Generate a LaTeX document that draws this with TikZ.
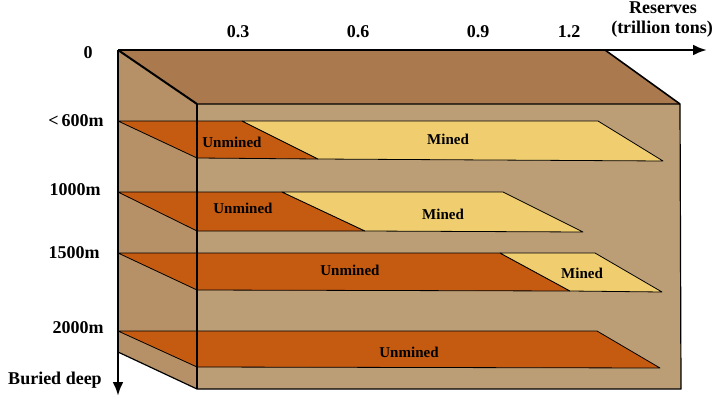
\documentclass[tikz,border=0pt]{standalone}
\usepackage{fontspec}
\setmainfont{Liberation Serif}
\usetikzlibrary{arrows.meta,positioning}
\definecolor{topface}{RGB}{170,121,78}
\definecolor{sideface}{RGB}{182,145,103}
\definecolor{frontface}{RGB}{188,158,118}
\definecolor{unmined}{RGB}{197,90,17}
\definecolor{mined}{RGB}{240,206,112}

\begin{document}
\begin{tikzpicture}[x=1pt,y=-1pt,
	seam/.style={draw=black,line width=0.8pt,line join=round},
	coal/.style={seam,fill=unmined},
	gob/.style={seam,fill=mined},
	edge/.style={draw=black,line width=1.2pt,line join=round},
	axis/.style={line width=2.8pt,-{Latex[length=14pt,width=11pt]}},
	axl/.style={inner sep=0pt,font=\fontsize{18}{20}\selectfont\bfseries},
	sl/.style={inner sep=0pt,font=\fontsize{15}{17}\selectfont\bfseries}]
\useasboundingbox (0,0) rectangle (720,404);

% box corners
\coordinate (A) at (118,50);
\coordinate (B) at (605,50);
\coordinate (C) at (680,104);
\coordinate (D) at (197,104);
\coordinate (E) at (197,389);
\coordinate (F) at (681,389);
\coordinate (G) at (118,352);

% faces
\fill [topface] (A)--(B)--(C)--(D)--cycle;
\fill [sideface] (A)--(D)--(E)--(G)--cycle;
\fill [frontface] (D)--(C)--(F)--(E)--cycle;

% seam 1
\draw [coal] (118,121)--(242,121)--(318,159)--(197,158)--cycle;
\draw [gob] (242,121)--(598,121)--(663,161)--(318,159)--cycle;
% seam 2
\draw [coal] (118,192)--(282,192)--(365,231)--(197,231)--cycle;
\draw [gob] (282,192)--(503,192)--(583,232)--(365,231)--cycle;
% seam 3
\draw [coal] (118,253)--(500,253)--(570,291)--(197,290)--cycle;
\draw [gob] (500,253)--(595,253)--(662,292)--(570,291)--cycle;
% seam 4
\draw [coal] (118,331)--(597,331)--(660,368)--(197,367)--cycle;

% box edges
\draw [edge] (D)--(C)--(F)--(E)--(G);
\draw [edge] (D)--(E);
\draw [edge,line width=2pt] (A)--(D);
\draw [edge,line width=1.6pt] (B)--(C);

% axes
\draw [axis] (A)--(707,50);
\draw [axis] (A)--(118,396);

% axis labels
\node [axl] (res) at (663,8) {Reserves};
\node [axl] (unit) at (662,29) {(trillion tons)};
\node [axl] (t1) at (238,32) {0.3};
\node [axl] (t2) at (358,32) {0.6};
\node [axl] (t3) at (478,32) {0.9};
\node [axl] (t4) at (569,32) {1.2};
\node [axl] (d0) at (88,53) {0};
\node [axl] (d1) at (76,121) {<\,600m};
\node [axl] (d2) at (75,190) {1000m};
\node [axl] (d3) at (74,253) {1500m};
\node [axl] (d4) at (78,328) {2000m};
\node [axl] (dep) at (55,380) {Buried deep};

% seam labels
\node [sl] (u1) at (232,142) {Unmined};
\node [sl] (m1) at (448,139) {Mined};
\node [sl] (u2) at (243,208) {Unmined};
\node [sl] (m2) at (443,214) {Mined};
\node [sl] (u3) at (350,270) {Unmined};
\node [sl] (m3) at (582,273) {Mined};
\node [sl] (u4) at (409,352) {Unmined};
\end{tikzpicture}
\end{document}
